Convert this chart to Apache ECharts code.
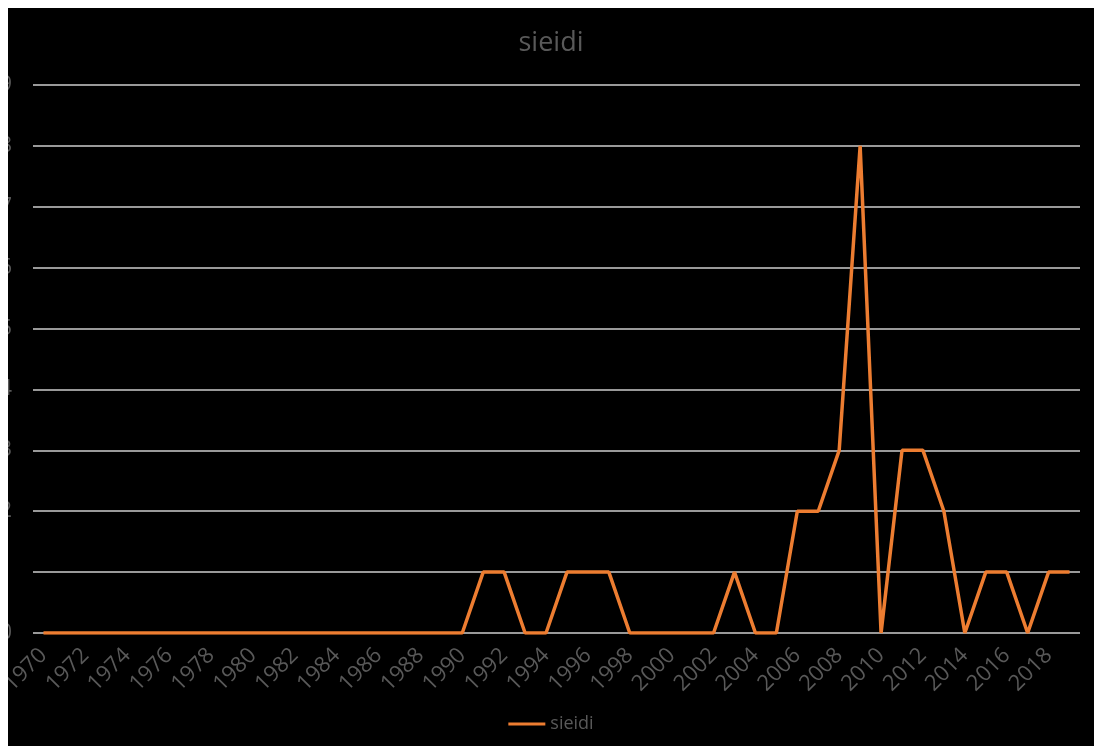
<!DOCTYPE html>
<html>
<head>
<meta charset="utf-8">
<script src="https://cdn.jsdelivr.net/npm/echarts@6/dist/echarts.min.js"></script>
<style>
html,body{margin:0;padding:0;background:#ffffff;width:1094px;height:746px;overflow:hidden;}
#wrap{position:absolute;left:8px;top:8px;width:1086px;height:738px;background:#000000;overflow:hidden;}
#chart{position:absolute;left:0;top:0;width:1086px;height:738px;}
</style>
</head>
<body>
<div id="wrap"><div id="chart"></div></div>
<script>
const years = ["1970","1971","1972","1973","1974","1975","1976","1977","1978","1979",
"1980","1981","1982","1983","1984","1985","1986","1987","1988","1989",
"1990","1991","1992","1993","1994","1995","1996","1997","1998","1999",
"2000","2001","2002","2003","2004","2005","2006","2007","2008","2009",
"2010","2011","2012","2013","2014","2015","2016","2017","2018","2019"];
const sieidi = [0,0,0,0,0,0,0,0,0,0,
0,0,0,0,0,0,0,0,0,0,
0,1,1,0,0,1,1,1,0,0,
0,0,0,1,0,0,2,2,3,8,
0,3,3,2,0,1,1,0,1,1];
const yTicks = [0,1,2,3,4,5,6,7,8,9];
const seriesName = "sieidi";
const titleText = "sieidi";

const chart = echarts.init(document.getElementById('chart'), null, {renderer:'canvas'});
const font = "'Open Sans', sans-serif";
const grey = '#595959';
chart.setOption({
  backgroundColor: '#000000',
  animation: false,
  title: {
    text: titleText,
    left: 'center',
    top: 17,
    textStyle: {color: grey, fontSize: 27, fontWeight: 'normal', fontFamily: font}
  },
  legend: {
    bottom: 8,
    left: 'center',
    icon: 'rect',
    itemWidth: 37,
    itemHeight: 3,
    textStyle: {color: grey, fontSize: 18, fontFamily: font},
    data: [seriesName]
  },
  grid: {left: 25, right: 14, top: 77, bottom: 113, containLabel: false, outerBoundsMode: 'none'},
  xAxis: {
    type: 'category',
    data: years,
    boundaryGap: true,
    axisLine: {show: false},
    axisTick: {show: false},
    axisLabel: {
      interval: 1,
      rotate: 45,
      margin: 19,
      color: grey,
      fontSize: 22,
      fontFamily: font
    }
  },
  yAxis: {
    type: 'value',
    min: yTicks[0],
    max: yTicks[yTicks.length - 1],
    interval: 1,
    axisLine: {show: false},
    axisTick: {show: false},
    axisLabel: {
      margin: 21,
      color: grey,
      fontSize: 21,
      fontFamily: font
    },
    splitLine: {lineStyle: {color: '#cccccc', width: 1.5}}
  },
  series: [{
    name: seriesName,
    type: 'line',
    data: sieidi,
    symbol: 'none',
    color: '#ED7D31',
    lineStyle: {width: 3.5, color: '#ED7D31'}
  }]
});
</script>
</body>
</html>
